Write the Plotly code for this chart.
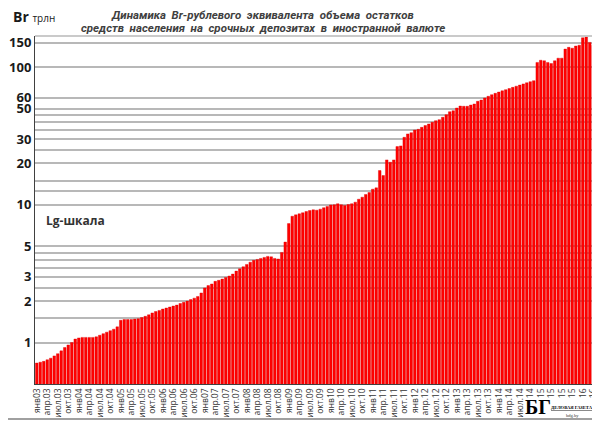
import plotly.graph_objects as go

# Br-equivalent of household FX term deposits, trillion Br, monthly Jan 2003 - Apr 2016
deposits = [
    0.71, 0.72, 0.73, 0.75, 0.77, 0.80, 0.83, 0.87, 0.92, 0.96, 1.00, 1.06,        # 2003
    1.08, 1.09, 1.09, 1.09, 1.09, 1.10, 1.13, 1.16, 1.19, 1.22, 1.25, 1.30,        # 2004
    1.45, 1.47, 1.47, 1.47, 1.48, 1.49, 1.52, 1.55, 1.59, 1.64, 1.68, 1.71,        # 2005
    1.75, 1.78, 1.81, 1.84, 1.87, 1.92, 1.96, 2.00, 2.05, 2.10, 2.16, 2.29,        # 2006
    2.49, 2.59, 2.66, 2.78, 2.83, 2.89, 2.97, 3.04, 3.14, 3.30, 3.43, 3.55,        # 2007
    3.69, 3.83, 3.95, 4.01, 4.08, 4.15, 4.22, 4.19, 4.08, 4.04, 4.51, 5.36,        # 2008
    7.30, 8.26, 8.45, 8.60, 8.75, 8.94, 9.09, 9.19, 9.14, 9.30, 9.52, 9.73,        # 2009
    9.97, 10.00, 10.17, 10.00, 9.89, 10.05, 10.17, 10.45, 10.98, 11.36, 11.88, 12.28,  # 2010
    12.98, 13.27, 17.73, 16.30, 21.17, 20.37, 21.17, 26.45, 26.75, 30.9, 32.7, 33.4,  # 2011
    34.9, 35.3, 36.5, 37.6, 38.6, 39.7, 40.8, 41.5, 43.2, 45.1, 47.4, 48.2,        # 2012
    50.4, 52.1, 51.9, 51.9, 53.0, 53.9, 56.4, 57.6, 59.6, 61.3, 63.0, 64.4,        # 2013
    65.8, 67.2, 68.5, 69.8, 71.2, 72.6, 74.0, 75.4, 76.9, 78.3, 79.6, 108,         # 2014
    112, 111, 108, 106, 111, 116, 116, 135, 139, 137, 142, 144,                    # 2015
    163, 165, 151, 144,                                                            # 2016
]

# one category per month
months = [f"{y}-{m:02d}" for y in range(2003, 2017) for m in range(1, 13)][:len(deposits)]

# quarterly x tick labels
quarter_names = ["янв", "апр.", "июл.", "окт."]
tick_labels = [f"{quarter_names[(m - 1) // 3]}{y % 100:02d}"
               for y in range(2003, 2017) for m in (1, 4, 7, 10)][:len(months[::3])]

# log-scale grid lines and the ones that carry a label
grid_vals = [1, 1.5, 2, 2.5, 3, 3.5, 4, 4.5, 5, 10, 12.5, 15, 20, 25, 30, 35, 40, 45, 50, 60, 100, 150]
labeled = [1, 2, 3, 5, 10, 20, 30, 50, 60, 100, 150]

# the page puts the figure 8px in from the top-left corner
OFF = 8
W, H = 600 - OFF, 423 - OFF
L, R, T, B = 35, 595, 36, 384          # plot area in page pixels
PW, PH = R - L, B - T


def px(x):
    return (x - L) / PW


def py(y):
    return (B - y) / PH


fig = go.Figure(go.Bar(
    x=months, y=deposits,
    marker=dict(color="#FF0000", line=dict(color="#E00000", width=0.4)),
    hoverinfo="x+y",
))

fig.update_layout(
    width=W, height=H,
    margin=dict(l=L - OFF, r=W - (R - OFF), t=T - OFF, b=H - (B - OFF)),
    paper_bgcolor="white", plot_bgcolor="white",
    bargap=0.25, showlegend=False,
    font=dict(family="Open Sans", color="#262626"),
)

fig.update_xaxes(
    type="category", tickmode="array",
    tickvals=months[::3], ticktext=tick_labels,
    tickangle=-90, tickfont=dict(size=8.5, color="#333333"),
    showgrid=False, showline=True, linecolor="#404040", linewidth=1,
    ticks="", automargin=False,
)

fig.update_yaxes(
    type="log", range=[-0.30103, 2.2253],
    tickmode="array", tickvals=grid_vals,
    ticktext=[f"<b>{v:g}</b>" if v in labeled else "" for v in grid_vals],
    tickfont=dict(size=13, color="#1a1a1a", family="Open Sans"),
    showgrid=True, gridcolor="#B8B8B8", gridwidth=2,
    showline=True, linecolor="#404040", linewidth=1,
    ticks="", automargin=False, zeroline=False,
)

# top border of the plot area
fig.add_shape(type="line", xref="paper", yref="paper", x0=0, x1=1, y0=1, y1=1,
              line=dict(color="#B8B8B8", width=1.5))

title_font = dict(family="Roboto", size=11.5, color="#404040", style="italic", weight="bold")
fig.add_annotation(text="Динамика  Br-рублевого  эквивалента  объема  остатков",
                   xref="paper", yref="paper", x=px(262), y=py(14.5),
                   xanchor="center", yanchor="middle", showarrow=False, font=title_font)
fig.add_annotation(text="средств  населения  на  срочных  депозитах  в  иностранной  валюте",
                   xref="paper", yref="paper", x=px(263), y=py(28),
                   xanchor="center", yanchor="middle", showarrow=False, font=title_font)

fig.add_annotation(text="<b>Br</b> <span style='font-size:10px'>трлн</span>",
                   xref="paper", yref="paper", x=px(11), y=py(16.5),
                   xanchor="left", yanchor="middle",
                   showarrow=False, font=dict(size=14, color="#1a1a1a"))

fig.add_annotation(text="<b>Lg-шкала</b>", xref="paper", yref="paper", x=px(44), y=py(221),
                   xanchor="left", yanchor="middle", showarrow=False,
                   font=dict(size=12, color="#333333"))

# publisher logo over the last tick labels
fig.add_shape(type="rect", xref="paper", yref="paper", layer="above",
              x0=px(527), x1=px(597), y0=py(419), y1=py(398),
              fillcolor="white", line=dict(width=0))
fig.add_annotation(text="<b>БГ</b>", xref="paper", yref="paper", x=px(538), y=py(407),
                   xanchor="center", yanchor="middle", showarrow=False,
                   font=dict(family="Liberation Serif", size=20, color="black"))
fig.add_annotation(text="<b><u>ДЕЛОВАЯ ГАЗЕТА</u></b>", xref="paper", yref="paper",
                   x=px(572), y=py(408), xanchor="center", yanchor="middle", showarrow=False,
                   font=dict(family="Liberation Serif", size=4.6, color="black"))
fig.add_annotation(text="bdg.by", xref="paper", yref="paper", x=px(572), y=py(415),
                   xanchor="center", yanchor="middle", showarrow=False,
                   font=dict(family="Liberation Serif", size=4.5, color="#333333"))

# right and bottom edges of the picture frame
fig.add_shape(type="line", xref="paper", yref="paper", layer="above",
              x0=px(597), x1=px(597), y0=py(419), y1=py(OFF),
              line=dict(color="#A0A0A0", width=2))
fig.add_shape(type="line", xref="paper", yref="paper", layer="above",
              x0=px(OFF), x1=px(597), y0=py(419), y1=py(419),
              line=dict(color="#A0A0A0", width=2))

fig.write_html("out.html")
